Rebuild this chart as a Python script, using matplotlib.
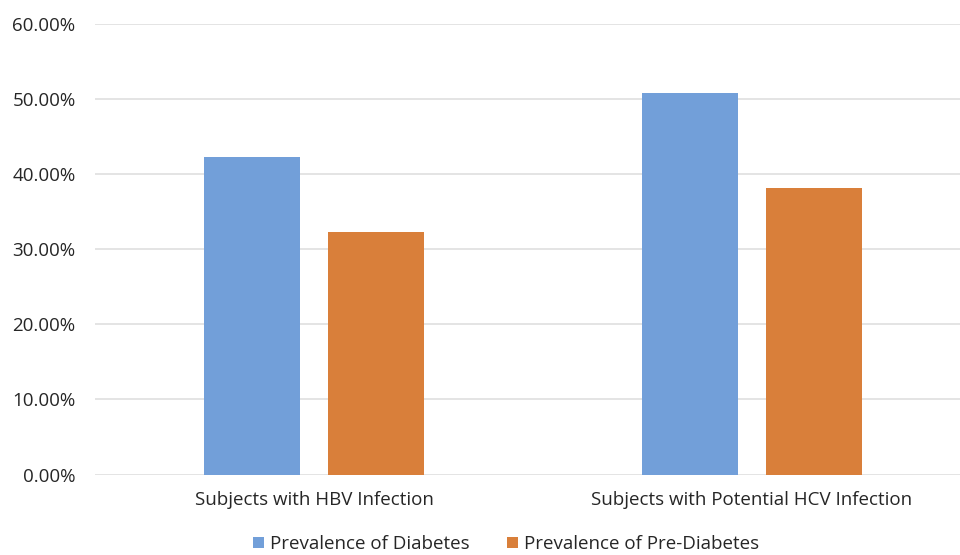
import matplotlib.pyplot as plt
import numpy as np
from matplotlib.ticker import PercentFormatter

categories = ['Subjects with HBV Infection', 'Subjects with Potential HCV Infection']
diabetes = [42.3, 50.85]
pre_diabetes = [32.35, 38.1]
series_names = ['Prevalence of Diabetes', 'Prevalence of Pre-Diabetes']

plt.rcParams['font.family'] = ['Open Sans', 'DejaVu Sans']

fig = plt.figure(figsize=(9.6, 5.55), dpi=100)
ax = fig.add_axes([0.099, 0.145, 0.901, 0.812])

x = np.arange(len(categories))
w = 0.219
off = 0.142
ax.bar(x - off, diabetes, w, color='#729FD9', label=series_names[0], zorder=3)
ax.bar(x + off, pre_diabetes, w, color='#D97F3A', label=series_names[1], zorder=3)

ax.set_ylim(0, 60)
ax.set_yticks(np.arange(0, 61, 10))
ax.yaxis.set_major_formatter(PercentFormatter(decimals=2))
ax.set_xlim(-0.5, 1.475)
ax.set_xticks(x)
ax.set_xticklabels(categories)
ax.grid(axis='y', color='#dcdcdc', linewidth=1.1, zorder=0)
for s in ax.spines.values():
    s.set_visible(False)
ax.tick_params(axis='both', length=0, labelsize=13.5, colors='#262626')
ax.tick_params(axis='x', pad=12)
ax.tick_params(axis='y', pad=14)

fig.legend(loc='lower center', ncol=2, frameon=False, fontsize=13.5,
           handlelength=0.6, handleheight=0.6, handletextpad=0.3,
           columnspacing=2.0, bbox_to_anchor=(0.527, -0.027), labelcolor='#262626')

fig.savefig('out.png', dpi=100)
